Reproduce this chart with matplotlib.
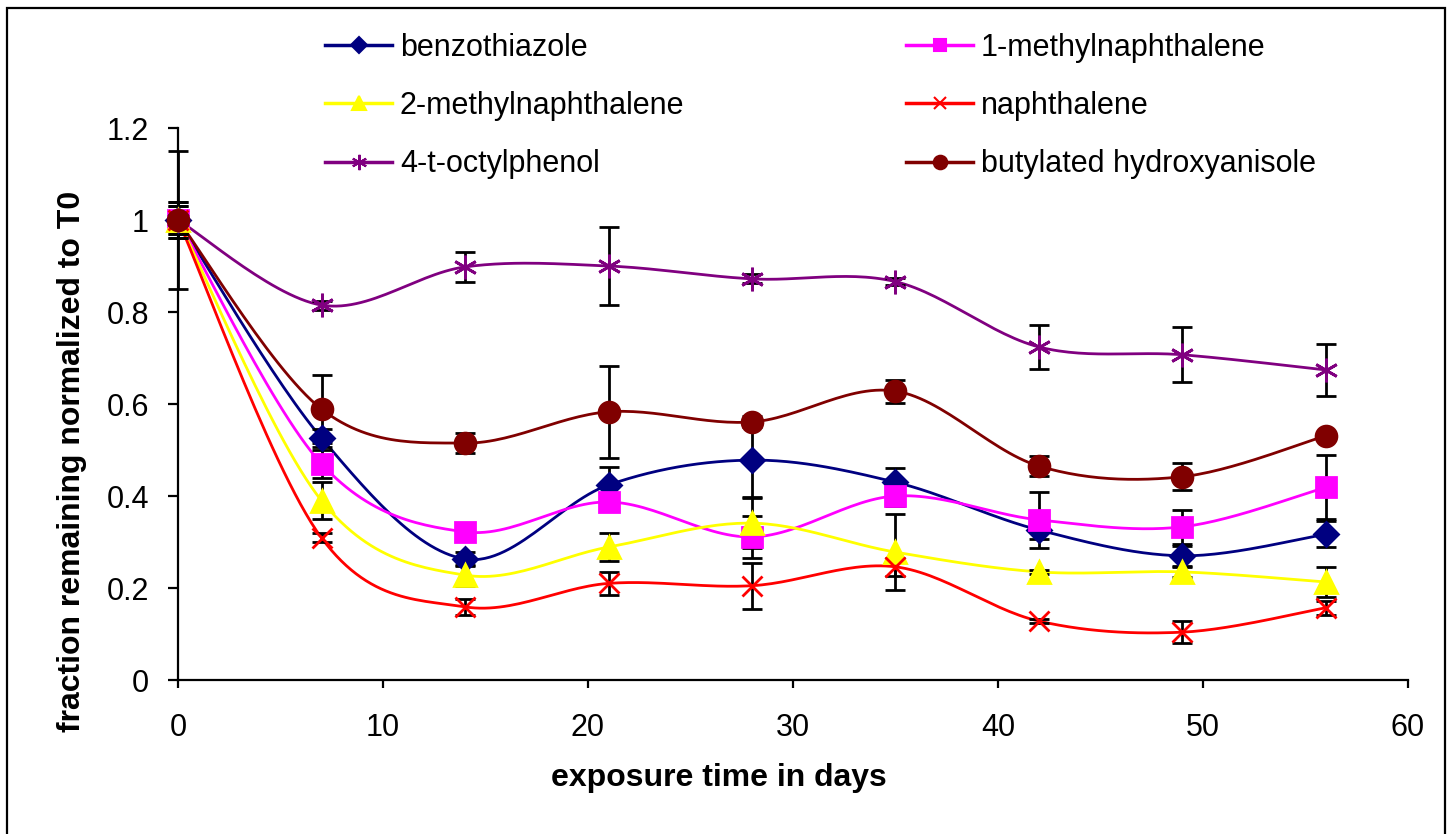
import matplotlib
matplotlib.use("Agg")
import matplotlib.pyplot as plt
import numpy as np
from matplotlib.patches import Rectangle
from matplotlib.ticker import FormatStrFormatter

plt.rcParams['font.family'] = ['Liberation Sans', 'DejaVu Sans']

days = [0, 7, 14, 21, 28, 35, 42, 49, 56]

benzothiazole = [1.0, 0.526, 0.263, 0.424, 0.478, 0.43, 0.326, 0.27, 0.317]
benzothiazole_err = [0.03, 0.02, 0.015, 0.04, 0.08, 0.03, 0.02, 0.022, 0.028]

methylnaph1 = [1.0, 0.47, 0.322, 0.387, 0.311, 0.40, 0.348, 0.333, 0.419]
methylnaph1_err = [0.04, 0.03, 0.02, 0.02, 0.045, 0.022, 0.06, 0.037, 0.07]

methylnaph2 = [1.0, 0.39, 0.228, 0.289, 0.341, 0.278, 0.235, 0.235, 0.213]
methylnaph2_err = [0.02, 0.04, 0.023, 0.03, 0.055, 0.083, 0.005, 0.01, 0.033]

naphthalene = [1.0, 0.309, 0.159, 0.21, 0.205, 0.246, 0.128, 0.104, 0.157]
naphthalene_err = [0.03, 0.01, 0.018, 0.025, 0.05, 0.02, 0.005, 0.024, 0.015]

octylphenol = [1.0, 0.815, 0.898, 0.9, 0.872, 0.866, 0.724, 0.707, 0.674]
octylphenol_err = [0.15, 0.01, 0.033, 0.085, 0.01, 0.008, 0.048, 0.06, 0.056]

bha = [1.0, 0.589, 0.515, 0.583, 0.561, 0.628, 0.465, 0.442, 0.531]
bha_err = [0.04, 0.074, 0.022, 0.1, 0.012, 0.025, 0.022, 0.03, 0.005]

labels = ['benzothiazole', '1-methylnaphthalene', '2-methylnaphthalene',
          'naphthalene', '4-t-octylphenol', 'butylated hydroxyanisole']


def smooth(x, y, n=30):
    # excel-like catmull-rom smoothing through the points
    x = np.asarray(x, float)
    y = np.asarray(y, float)
    px = np.concatenate(([x[0]], x, [x[-1]]))
    py = np.concatenate(([y[0]], y, [y[-1]]))
    t = np.linspace(0, 1, n)[:, None]
    xs, ys = [], []
    for i in range(1, len(px) - 2):
        p0 = np.array([px[i], py[i]])
        p3 = np.array([px[i + 1], py[i + 1]])
        p1 = p0 + (np.array([px[i + 1], py[i + 1]]) - np.array([px[i - 1], py[i - 1]])) / 6
        p2 = p3 - (np.array([px[i + 2], py[i + 2]]) - p0) / 6
        b = ((1 - t) ** 3) * p0 + 3 * ((1 - t) ** 2) * t * p1 + 3 * (1 - t) * t ** 2 * p2 + t ** 3 * p3
        xs.append(b[:, 0])
        ys.append(b[:, 1])
    return np.concatenate(xs), np.concatenate(ys)


fig = plt.figure(figsize=(14.52, 8.34), dpi=100)
ax = fig.add_axes([178 / 1452, 1 - 680 / 834, (1408 - 178) / 1452, (680 - 128) / 834])

series = [
    (benzothiazole, benzothiazole_err, '#000080', 'D', 12),
    (methylnaph1, methylnaph1_err, '#FF00FF', 's', 14),
    (methylnaph2, methylnaph2_err, '#FFFF00', '^', 16),
    (naphthalene, naphthalene_err, '#FF0000', 'x', 14),
    (octylphenol, octylphenol_err, '#800080', (6, 2, 0), 17),
    (bha, bha_err, '#800000', 'o', 15),
]

handles = []
for (vals, err, col, mk, ms), lab in zip(series, labels):
    ax.errorbar(days, vals, yerr=err, fmt='none', ecolor='black', elinewidth=2,
                capsize=7, capthick=2, zorder=3, clip_on=False)
    sx, sy = smooth(days, vals)
    ax.plot(sx, sy, color=col, lw=2, zorder=2, clip_on=False)
    ax.plot(days, vals, linestyle='none', marker=mk, color=col, ms=ms,
            mew=2, zorder=4, clip_on=False)
    h, = ax.plot([], [], color=col, lw=2.5, marker=mk, ms=ms * 0.65, mew=1.5)
    handles.append(h)

ax.set_xlim(0, 60)
ax.set_ylim(0, 1.2)
ax.set_xticks(np.arange(0, 61, 10))
ax.set_yticks(np.arange(0, 1.21, 0.2))
ax.yaxis.set_major_formatter(FormatStrFormatter('%g'))
ax.spines['top'].set_visible(False)
ax.spines['right'].set_visible(False)
ax.spines['left'].set_linewidth(1.6)
ax.spines['bottom'].set_linewidth(1.6)
ax.tick_params(axis='y', direction='out', length=7, width=1.6, labelsize=22, pad=14)
ax.tick_params(axis='x', direction='out', length=6, width=1.6, labelsize=22, pad=18)

fig.text(719 / 1452, 1 - 778 / 834, 'exposure time in days', fontsize=23,
         fontweight='bold', ha='center', va='center')
fig.text(72 / 1452, 1 - 461 / 834, 'fraction remaining normalized to T0', fontsize=23,
         fontweight='bold', ha='center', va='center', rotation=90)

# legend rows pair up two series
leg = fig.legend([handles[i] for i in [0, 2, 4, 1, 3, 5]],
                 [labels[i] for i in [0, 2, 4, 1, 3, 5]],
                 ncol=2, loc='upper left', bbox_to_anchor=(325 / 1452, 1 - 33 / 834),
                 frameon=False, fontsize=22, handlelength=2.2, handletextpad=0.25,
                 columnspacing=7.25, labelspacing=0.92, borderpad=0, borderaxespad=0)

fig.patches.append(Rectangle((7 / 1452, -0.05), (1445 - 7) / 1452, 1.05 - 8 / 834,
                             transform=fig.transFigure, fill=False, lw=1.6,
                             edgecolor='black'))

fig.savefig('out.png', dpi=100)
